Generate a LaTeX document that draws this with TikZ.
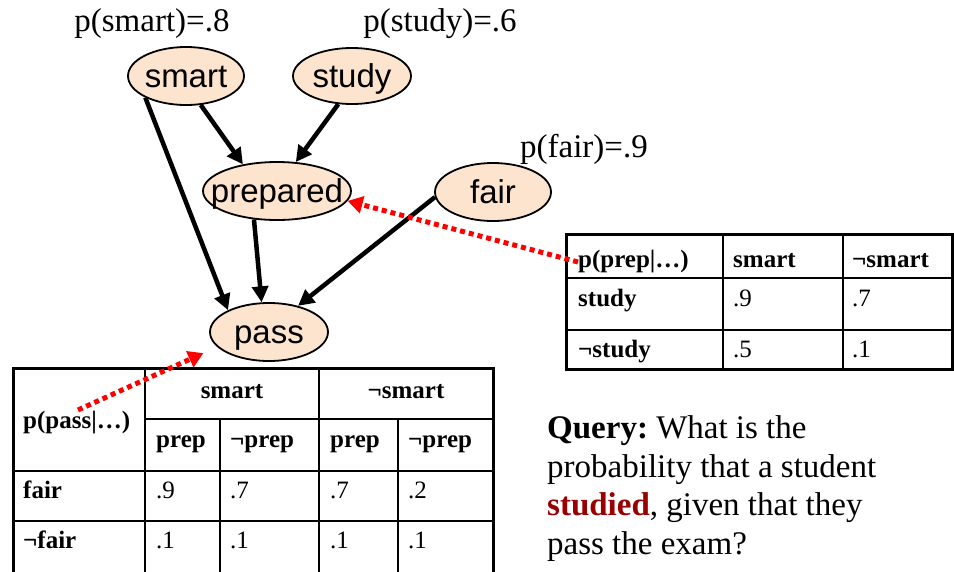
\documentclass[tikz,border=0pt]{standalone}
\usepackage{fontspec}
\setmainfont{Liberation Serif}
\newfontfamily\arialfont{Liberation Sans}
\usetikzlibrary{shapes.geometric,arrows.meta}
\definecolor{peach}{RGB}{252,228,206}
\definecolor{darkred}{RGB}{153,0,0}
% variable label: centred on its x-height band, independent of descenders
\newcommand{\varlabel}[1]{\makebox[0pt]{\smash{#1}\vphantom{d}}}

\begin{document}
\begin{tikzpicture}[x=1pt,y=-1pt,
  var/.style={ellipse,draw,line width=1.8pt,fill=peach,inner sep=0pt,
    font=\arialfont\fontsize{33}{33}\selectfont},
  edge/.style={line width=4.5pt,-{Triangle[length=16pt,width=16pt]}},
  hint/.style={red,line width=5pt,dash pattern=on 5pt off 4pt,
    -{Triangle[length=15pt,width=17pt]}},
  prob/.style={anchor=base,inner sep=0pt,font=\fontsize{33}{33}\selectfont},
  cell/.style={anchor=base west,inner sep=0pt,font=\fontsize{25}{25}\selectfont},
  hcell/.style={cell,font=\fontsize{25}{25}\selectfont\bfseries},
  outer/.style={line width=3pt},
  inner/.style={line width=1.5pt}]

\clip (0,0) rectangle (954,571);

% network variables
\node[var,minimum width=116,minimum height=58] (smart) at (186,76) {\varlabel{smart}};
\node[var,minimum width=118,minimum height=56] (study) at (352,76) {\varlabel{study}};
\node[var,minimum width=148,minimum height=58] (prepared) at (277,191) {\varlabel{prepared}};
\node[var,minimum width=116,minimum height=58] (fair) at (493,192) {\varlabel{fair}};
\node[var,minimum width=118,minimum height=58] (pass) at (269,332) {\varlabel{pass}};

% priors
\node[prob] (psmart) at (152,31) {p(smart)=.8};
\node[prob] (pstudy) at (440,31) {p(study)=.6};
\node[prob] (pfair) at (584,157) {p(fair)=.9};

% dependencies
\draw[edge] (smart.208) -- (pass.152);
\draw[edge] (smart.297) -- (prepared.142);
\draw[edge] (study.244) -- (prepared.57);
\draw[edge] (prepared.231) -- (pass.104);
\draw[edge] (fair.185) -- (pass.42);

% table for p(prep|...)
\draw[inner] (723,234) -- (723,369) (843,234) -- (843,369)
             (566,278) -- (952,278) (566,330) -- (952,330);
\draw[outer] (566,234) rectangle (952,369);
\node[hcell] (tp) at (578,267) {p(prep|…)};
\node[hcell] (tps) at (733,267) {smart};
\node[hcell] (tpns) at (852,267) {¬smart};
\node[hcell] (tpst) at (578,306) {study};
\node[cell] (tp1) at (733,306) {.9};
\node[cell] (tp2) at (852,306) {.7};
\node[hcell] (tpnst) at (578,357) {¬study};
\node[cell] (tp3) at (733,357) {.5};
\node[cell] (tp4) at (852,357) {.1};

% table for p(pass|...)
\draw[inner] (145,368) -- (145,580) (319,368) -- (319,580)
             (220,419) -- (220,580) (398,419) -- (398,580)
             (145,419) -- (493,419) (13,471) -- (493,471) (13,521) -- (493,521);
\draw[outer] (13,368) rectangle (493,590);
\node[hcell] (qp) at (23,428) {p(pass|…)};
\node[hcell,anchor=base] (qs) at (232,398) {smart};
\node[hcell,anchor=base] (qns) at (406,398) {¬smart};
\node[hcell] (qh1) at (156,447) {prep};
\node[hcell] (qh2) at (230,447) {¬prep};
\node[hcell] (qh3) at (330,447) {prep};
\node[hcell] (qh4) at (408,447) {¬prep};
\node[hcell] (qf) at (23,498) {fair};
\node[cell] (q1) at (156,498) {.9};
\node[cell] (q2) at (230,498) {.7};
\node[cell] (q3) at (330,498) {.7};
\node[cell] (q4) at (408,498) {.2};
\node[hcell] (qnf) at (23,548) {¬fair};
\node[cell] (q5) at (156,548) {.1};
\node[cell] (q6) at (230,548) {.1};
\node[cell] (q7) at (330,548) {.1};
\node[cell] (q8) at (408,548) {.1};

% pointers from tables to their variables
\coordinate (fromprep) at (578,262);
\coordinate (frompass) at (78,410);
\draw[hint] (fromprep) -- (prepared.352);
\draw[hint,shorten >=15pt] (frompass) -- (pass.196);

% query (anchored at the baseline of its last line)
\node[anchor=base west,inner sep=0pt,align=left,
      font=\fontsize{33}{38.5}\selectfont\frenchspacing] (query) at (547,554)
  {\textbf{Query:} What is the\\probability that a student\\
   \textcolor{darkred}{\textbf{studied}}, given that they\\pass the exam?};
\end{tikzpicture}
\end{document}
